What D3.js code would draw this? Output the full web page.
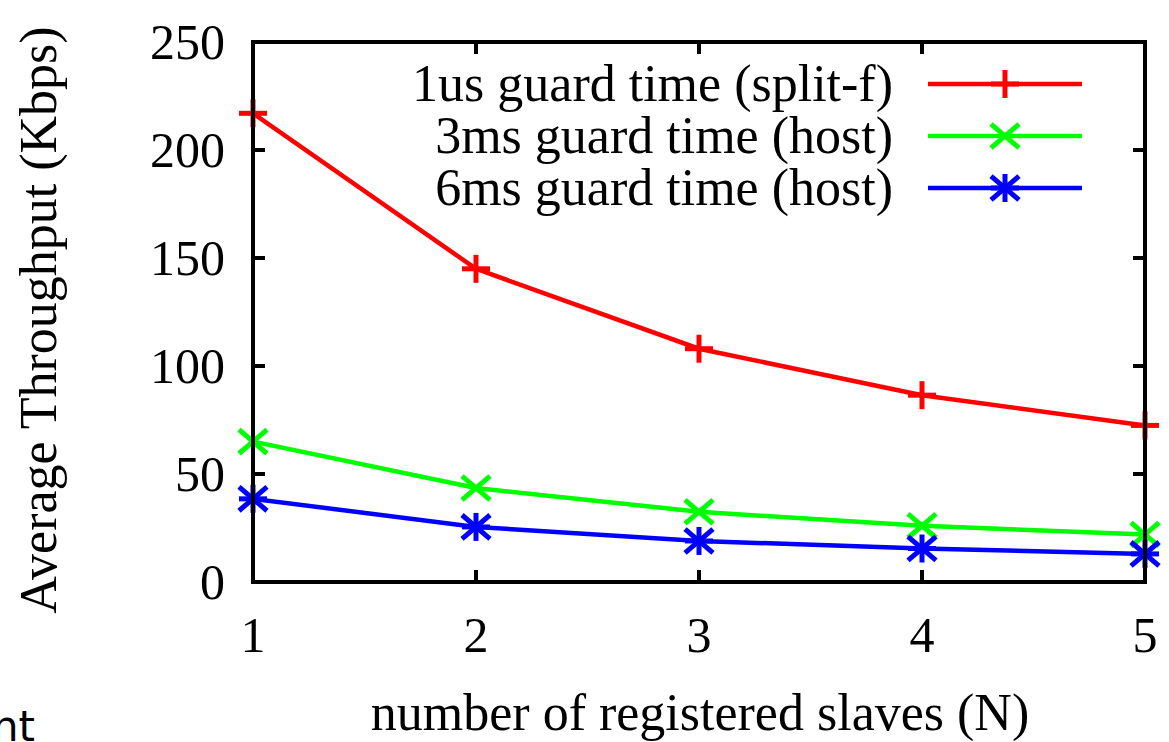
<!DOCTYPE html>
<html>
<head>
<meta charset="utf-8">
<script src="https://cdn.jsdelivr.net/npm/d3@7"></script>
<style>
  body { margin: 0; background: #fff; }
  svg { display: block; }
  text { font-family: "Liberation Serif", "Times New Roman", serif; fill: #000; }
</style>
</head>
<body>
<div id="chart"></div>
<script>
// data
const slaves = [1, 2, 3, 4, 5];
const guard1us = [217, 145, 108, 86.5, 72.5];
const guard3ms = [65, 43.5, 32.5, 26, 22];
const guard6ms = [38.5, 25.5, 19, 15.5, 13];
const seriesNames = ['1us guard time (split-f)', '3ms guard time (host)', '6ms guard time (host)'];
const seriesColors = ['#ff0000', '#00ff00', '#0000ff'];
const seriesMarkers = ['plus', 'cross', 'star'];
const yTicks = [0, 50, 100, 150, 200, 250];

const width = 1169, height = 742;
const margin = { top: 42, right: 24, bottom: 160, left: 253 };

const svg = d3.select('#chart').append('svg')
  .attr('width', width)
  .attr('height', height);

const x = d3.scaleLinear().domain([1, 5]).range([margin.left, width - margin.right]);
const y = d3.scaleLinear().domain([0, 250]).range([height - margin.bottom, margin.top]);

const tickLen = 12;
const axisW = 4;
const fs = '52px';

// ticks (gnuplot style: inward, mirrored)
const g = svg.append('g');
yTicks.forEach(t => {
  g.append('line').attr('x1', x(1)).attr('x2', x(1) + tickLen)
    .attr('y1', y(t)).attr('y2', y(t)).attr('stroke', '#000').attr('stroke-width', axisW);
  g.append('line').attr('x1', x(5)).attr('x2', x(5) - tickLen)
    .attr('y1', y(t)).attr('y2', y(t)).attr('stroke', '#000').attr('stroke-width', axisW);
  g.append('text').attr('x', x(1) - 28).attr('y', y(t))
    .attr('dy', '0.33em').attr('text-anchor', 'end')
    .style('font-size', '50px').text(t);
});
slaves.forEach(s => {
  g.append('line').attr('x1', x(s)).attr('x2', x(s))
    .attr('y1', y(0)).attr('y2', y(0) - tickLen).attr('stroke', '#000').attr('stroke-width', axisW);
  g.append('line').attr('x1', x(s)).attr('x2', x(s))
    .attr('y1', y(250)).attr('y2', y(250) + tickLen).attr('stroke', '#000').attr('stroke-width', axisW);
  g.append('text').attr('x', x(s)).attr('y', y(0) + 70)
    .attr('text-anchor', 'middle')
    .style('font-size', '50px').text(s);
});

// marker shapes
function marker(sel, type, cx, cy, color) {
  const r = 14;
  const m = sel.append('g').attr('transform', `translate(${cx},${cy})`)
    .attr('stroke', color).attr('stroke-width', 5).attr('fill', 'none');
  if (type === 'plus' || type === 'star') {
    m.append('line').attr('x1', -r).attr('x2', r).attr('y1', 0).attr('y2', 0);
    m.append('line').attr('x1', 0).attr('x2', 0).attr('y1', -r).attr('y2', r);
  }
  if (type === 'cross' || type === 'star') {
    const d = r;
    m.append('line').attr('x1', -d).attr('x2', d).attr('y1', -d * 0.85).attr('y2', d * 0.85);
    m.append('line').attr('x1', -d).attr('x2', d).attr('y1', d * 0.85).attr('y2', -d * 0.85);
  }
}

const line = d3.line().x(d => x(d[0])).y(d => y(d[1]));
const allSeries = [guard1us, guard3ms, guard6ms];

allSeries.forEach((vals, i) => {
  const pts = slaves.map((s, j) => [s, vals[j]]);
  svg.append('path').datum(pts)
    .attr('d', line)
    .attr('fill', 'none')
    .attr('stroke', seriesColors[i])
    .attr('stroke-width', 4.5);
  pts.forEach(p => marker(svg, seriesMarkers[i], x(p[0]), y(p[1]), seriesColors[i]));
});

// frame
svg.append('rect')
  .attr('x', x(1)).attr('y', y(250))
  .attr('width', x(5) - x(1)).attr('height', y(0) - y(250))
  .attr('fill', 'none').attr('stroke', '#000').attr('stroke-width', axisW);

// legend
const legY0 = 84, legDy = 52;
seriesNames.forEach((name, i) => {
  const ly = legY0 + i * legDy;
  svg.append('text').attr('x', 893).attr('y', ly).attr('dy', '0.33em')
    .attr('text-anchor', 'end').style('font-size', fs).text(name);
  svg.append('line').attr('x1', 928).attr('x2', 1082).attr('y1', ly).attr('y2', ly)
    .attr('stroke', seriesColors[i]).attr('stroke-width', 4.5);
  marker(svg, seriesMarkers[i], 1005, ly, seriesColors[i]);
});

// axis titles
svg.append('text')
  .attr('x', 700).attr('y', 730)
  .attr('text-anchor', 'middle').style('font-size', fs)
  .text('number of registered slaves (N)');

svg.append('text')
  .attr('transform', `translate(56, 320) rotate(-90)`)
  .attr('text-anchor', 'middle').style('font-size', fs)
  .text('Average Throughput (Kbps)');

// stray cropped text at the bottom-left edge
svg.append('text')
  .attr('x', -8).attr('y', 741)
  .style('font-family', '"DejaVu Sans", sans-serif')
  .style('font-size', '42px').text('nt');
</script>
</body>
</html>
